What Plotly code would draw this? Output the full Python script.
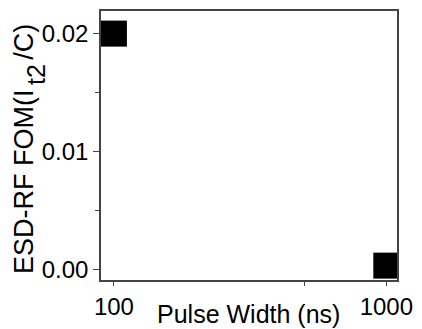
import plotly.graph_objects as go

pulse_width_ns = [100, 1000]
fom_values = [0.02, 0.0003]
x_tick_vals = [100, 1000]
x_tick_text = ["100", "1000"]
y_tick_vals = [0.0, 0.01, 0.02]
y_tick_text = ["0.00", "0.01", "0.02"]
x_title = "Pulse Width (ns)"
y_title_parts = ["ESD-RF FOM(I", "t2", "/C)"]

FONT = "Liberation Sans, Arial, sans-serif"
W, H = 422, 329
ML, MR, MT, MB = 101, 16, 9, 47
PH = H - MT - MB

def py(pix):
    # pixel row -> paper y
    return (H - MB - pix) / PH

fig = go.Figure()
fig.add_trace(go.Scatter(
    x=pulse_width_ns, y=fom_values, mode="markers",
    marker=dict(symbol="square", size=26, color="black", line=dict(width=0)),
    showlegend=False,
))

axis_common = dict(
    showline=True, linecolor="#444444", linewidth=1.5, mirror=True,
    showgrid=False, zeroline=False, ticks="outside", tickcolor="#444444",
    tickwidth=1.2, tickfont=dict(family=FONT, size=24, color="black"),
)

fig.update_xaxes(
    type="log", range=[1.9526, 3.0392],
    tickvals=x_tick_vals, ticktext=x_tick_text, ticklen=4,
    minor=dict(tickvals=[500], ticklen=4, ticks="outside", tickcolor="#444444", tickwidth=1.2),
    **axis_common,
)
fig.update_yaxes(
    range=[-0.00092, 0.02192],
    tickvals=y_tick_vals, ticktext=y_tick_text, ticklen=6,
    minor=dict(tickvals=[0.005, 0.015], ticklen=4, ticks="outside", tickcolor="#444444", tickwidth=1.2),
    **axis_common,
)

fig.add_annotation(
    text=x_title, xref="paper", yref="paper", x=0.497, y=0,
    xanchor="center", yanchor="middle", yshift=-34, showarrow=False,
    font=dict(family=FONT, size=25, color="black"),
)

yfont = dict(family=FONT, size=27, color="black")
main_xshift = -77
fig.add_annotation(
    text=y_title_parts[0], xref="paper", yref="paper", x=0, y=py(277),
    xanchor="center", yanchor="bottom", xshift=main_xshift, textangle=-90,
    showarrow=False, borderpad=0, font=yfont,
)
fig.add_annotation(
    text=y_title_parts[1], xref="paper", yref="paper", x=0, y=py(74),
    xanchor="center", yanchor="middle", xshift=main_xshift + 12, textangle=-90,
    showarrow=False, borderpad=0, font=dict(family=FONT, size=25, color="black"),
)
fig.add_annotation(
    text=y_title_parts[2], xref="paper", yref="paper", x=0, y=py(21),
    xanchor="center", yanchor="top", xshift=main_xshift, textangle=-90,
    showarrow=False, borderpad=0, font=yfont,
)

fig.update_layout(
    width=W, height=H,
    margin=dict(l=ML, r=MR, t=MT, b=MB),
    paper_bgcolor="white", plot_bgcolor="white",
)

fig.write_html("out.html")
